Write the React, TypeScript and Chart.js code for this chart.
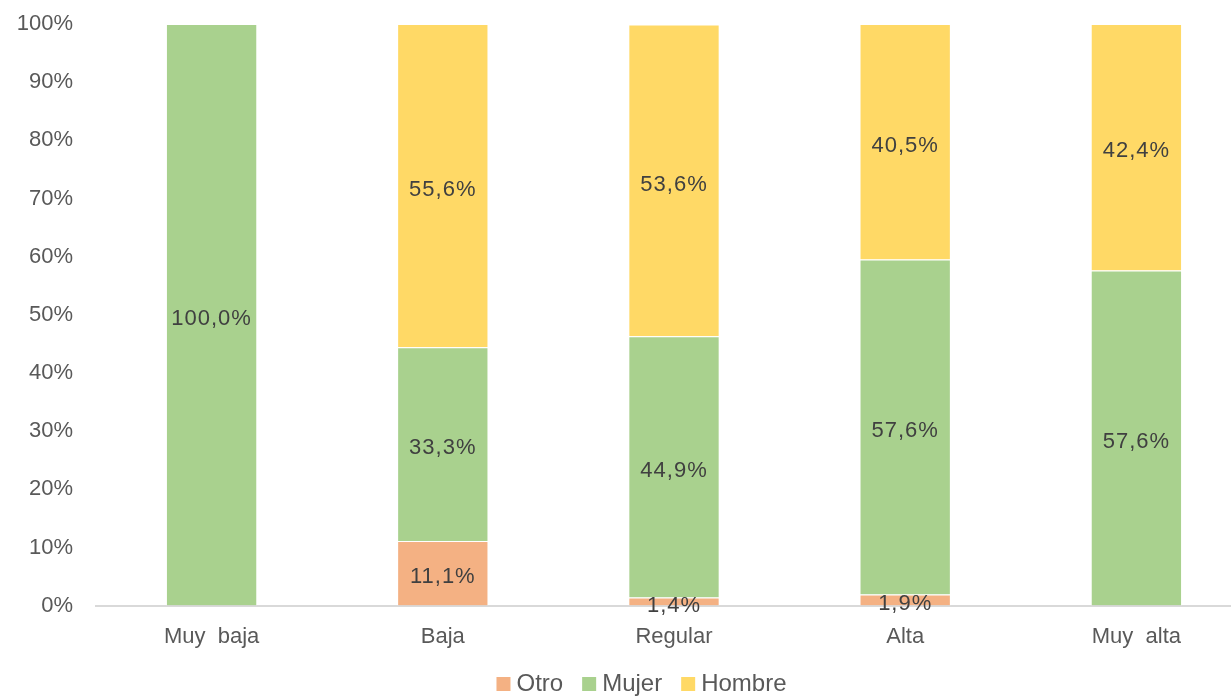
import React, { useEffect, useRef } from "react";
import { Chart, registerables } from "chart.js";

Chart.register(...registerables);

const categories = ["Muy  baja", "Baja", "Regular", "Alta", "Muy  alta"];
const seriesNames = ["Otro", "Mujer", "Hombre"];
const otro = [0, 11.1, 1.4, 1.9, 0];
const mujer = [100, 33.3, 44.9, 57.6, 57.6];
const hombre = [0, 55.6, 53.6, 40.5, 42.4];
const yTicks = [0, 10, 20, 30, 40, 50, 60, 70, 80, 90, 100];

const FONT = "'Liberation Sans', Arial, sans-serif";

const labelPlugin = {
  id: "segLabels",
  afterDatasetsDraw(chart: any) {
    const ctx = chart.ctx;
    ctx.save();
    ctx.font = `22px ${FONT}`;
    try { (ctx as any).letterSpacing = "1px"; } catch (e) {}
    ctx.fillStyle = "#404040";
    ctx.textAlign = "center";
    ctx.textBaseline = "middle";
    chart.data.datasets.forEach((ds: any, di: number) => {
      const meta = chart.getDatasetMeta(di);
      meta.data.forEach((el: any, i: number) => {
        const v = ds.data[i];
        if (!v) return;
        const y = (el.y + el.base) / 2;
        ctx.fillText(v.toFixed(1).replace(".", ",") + "%", el.x, y + 4);
      });
    });
    ctx.restore();
  },
};

const legendPlugin = {
  id: "customLegend",
  afterDraw(chart: any) {
    const ctx = chart.ctx;
    ctx.save();
    ctx.font = `24px ${FONT}`;
    ctx.textBaseline = "middle";
    ctx.textAlign = "left";
    const box = 14, gapBT = 6, gapItem = 19;
    const items = chart.data.datasets.map((ds: any) => ({
      text: ds.label,
      color: ds.backgroundColor,
      w: ctx.measureText(ds.label).width,
    }));
    const total = items.reduce((s: number, it: any) => s + box + gapBT + it.w, 0) + gapItem * (items.length - 1);
    let x = 641.5 - total / 2;
    const cy = 684;
    items.forEach((it: any) => {
      ctx.fillStyle = it.color;
      ctx.fillRect(x, cy - box / 2, box, box);
      x += box + gapBT;
      ctx.fillStyle = "#595959";
      ctx.fillText(it.text, x, cy);
      x += it.w + gapItem;
    });
    ctx.restore();
  },
};

export default function App() {
  const ref = useRef<HTMLCanvasElement>(null);
  useEffect(() => {
    if (!ref.current) return;
    const border = { top: 1, left: 1, right: 1, bottom: 0 };
    const chart = new Chart(ref.current, {
      type: "bar",
      data: {
        labels: categories,
        datasets: [
          { label: seriesNames[0], data: otro, backgroundColor: "#F4B183", borderColor: "#ffffff", borderWidth: border, borderSkipped: false },
          { label: seriesNames[1], data: mujer, backgroundColor: "#A9D18E", borderColor: "#ffffff", borderWidth: border, borderSkipped: false },
          { label: seriesNames[2], data: hombre, backgroundColor: "#FFD966", borderColor: "#ffffff", borderWidth: border, borderSkipped: false },
        ],
      },
      options: {
        animation: false,
        responsive: false,
        maintainAspectRatio: false,
        layout: { padding: { top: 0, right: 0, bottom: 28, left: 0 } },
        datasets: { bar: { categoryPercentage: 1, barPercentage: 0.395 } },
        plugins: {
          legend: { display: false },
          tooltip: { enabled: false },
        },
        scales: {
          x: {
            stacked: true,
            grid: { display: false, drawTicks: false },
            border: { display: true, color: "#d9d9d9", width: 2 },
            ticks: { font: { family: FONT, size: 22 }, color: "#595959", padding: 18 },
          },
          y: {
            stacked: true,
            min: 0,
            max: 100,
            afterFit(scale: any) {
              scale.width = 96;
              scale.paddingTop = 24;
              scale.paddingBottom = 0;
            },
            afterBuildTicks(scale: any) {
              scale.ticks = yTicks.map((v) => ({ value: v }));
            },
            grid: { display: false, drawTicks: false },
            border: { display: false },
            ticks: {
              font: { family: FONT, size: 22 },
              color: "#595959",
              padding: 23,
              callback: (v: any) => v + "%",
            },
          },
        },
      },
      plugins: [labelPlugin, legendPlugin],
    });
    return () => chart.destroy();
  }, []);
  return (
    <div style={{ position: "absolute", left: 0, top: 0, width: 1231, height: 696, overflow: "hidden", background: "#fff" }}>
      <canvas ref={ref} width={1252} height={696} style={{ display: "block" }} />
    </div>
  );
}
